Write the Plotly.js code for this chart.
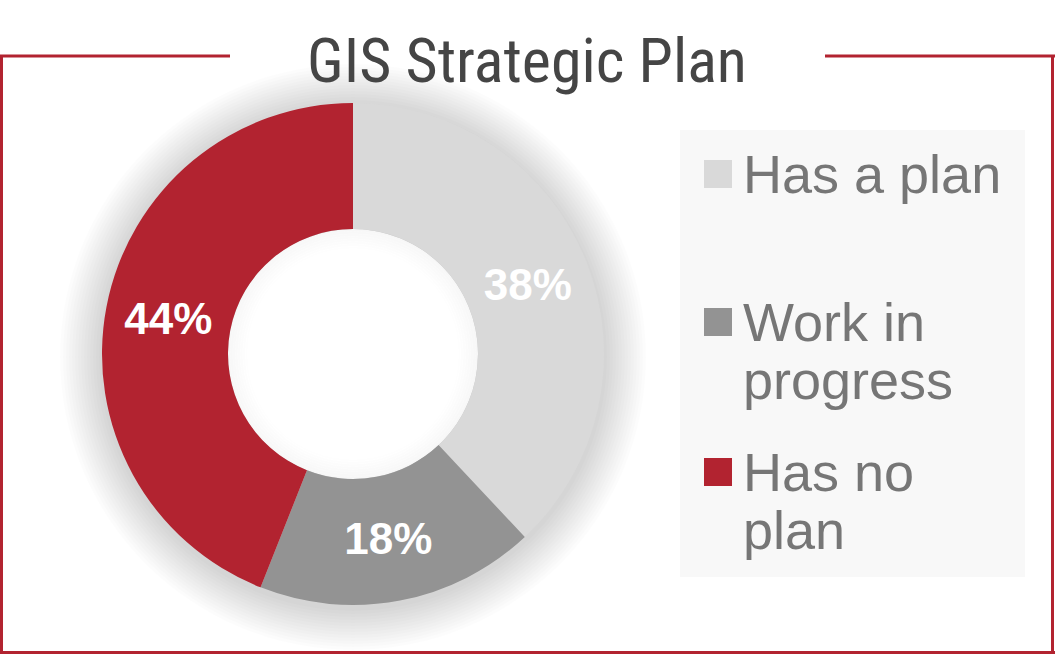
<!DOCTYPE html>
<html>
<head>
<meta charset="utf-8">
<script src="https://cdn.plot.ly/plotly-3.0.1.min.js"></script>
<style>
  html, body { margin: 0; padding: 0; background: #fff; }
  #myDiv { width: 1055px; height: 654px; }
</style>
</head>
<body>
<div id="myDiv"></div>
<script>
// chart data
const labels = ['Has a plan', 'Work in<br>progress', 'Has no<br>plan'];
const values = [38, 18, 44];
const colors = ['#d9d9d9', '#939393', '#b22330'];
const chartTitle = 'GIS Strategic Plan';

const W = 1055, H = 654;
// pixel -> paper helpers
const px = x => x / W;
const py = y => 1 - y / H;

// donut geometry (pixels)
const cx = 353, cy = 354, rOut = 251, rIn = 125;
const red = '#b22330';

const shapes = [];

// legend panel
shapes.push({
    type: 'rect', xref: 'paper', yref: 'paper', layer: 'below',
    x0: px(680), x1: px(1025), y0: py(577), y1: py(130),
    fillcolor: '#f8f8f8', line: {width: 0}
});

// soft shadow round the donut
for (let i = 14; i >= 1; i--) {
    const r = rOut + i * 3;
    shapes.push({
        type: 'circle', xref: 'paper', yref: 'paper', layer: 'below',
        x0: px(cx - r), x1: px(cx + r), y0: py(cy + 3 + r), y1: py(cy + 3 - r),
        fillcolor: 'rgba(0,0,0,0.011)', line: {width: 0}
    });
}
// keep the hole white
shapes.push({
    type: 'circle', xref: 'paper', yref: 'paper', layer: 'below',
    x0: px(cx - rIn), x1: px(cx + rIn), y0: py(cy + rIn), y1: py(cy - rIn),
    fillcolor: '#ffffff', line: {width: 0}
});
// inner shadow of the hole
for (let i = 0; i < 8; i++) {
    const r = rIn - 1 - i * 2.5;
    shapes.push({
        type: 'circle', xref: 'paper', yref: 'paper', layer: 'above',
        x0: px(cx - r), x1: px(cx + r), y0: py(cy + r), y1: py(cy - r),
        fillcolor: 'rgba(0,0,0,0)', line: {width: 2.5, color: 'rgba(0,0,0,' + (0.03 - i * 0.0035).toFixed(4) + ')'}
    });
}

// frame round the chart, broken under the title
const frame = [
    [0, 56, 230, 56], [825, 56, 1055, 56],
    [1.5, 56, 1.5, 654], [1052.5, 56, 1052.5, 654],
    [0, 652.5, 1055, 652.5]
];
frame.forEach(f => shapes.push({
    type: 'line', xref: 'paper', yref: 'paper',
    x0: px(f[0]), y0: py(f[1]), x1: px(f[2]), y1: py(f[3]),
    line: {color: red, width: 3}
}));

// legend entries
const annotations = [];
const itemTop = [174, 322, 472];
labels.forEach((lab, i) => {
    const yc = itemTop[i];
    shapes.push({
        type: 'rect', xref: 'paper', yref: 'paper',
        x0: px(704), x1: px(732), y0: py(yc + 14), y1: py(yc - 14),
        fillcolor: colors[i], line: {width: 0}
    });
    lab.split('<br>').forEach((line, j) => {
        annotations.push({
            xref: 'paper', yref: 'paper', showarrow: false,
            x: px(741), y: py(yc + j * 58), xanchor: 'left', yanchor: 'middle',
            text: line,
            font: {family: 'Liberation Sans, Arial, sans-serif', size: 54, color: '#767676'}
        });
    });
});

var data = [{
    type: 'pie',
    labels: labels,
    values: values,
    sort: false,
    direction: 'clockwise',
    rotation: 0,
    hole: rIn / rOut,
    marker: {colors: colors, line: {width: 0}},
    textinfo: 'percent',
    textposition: 'inside',
    insidetextorientation: 'horizontal',
    textfont: {family: 'Liberation Sans, Arial, sans-serif', size: 44, color: '#ffffff', weight: 'bold'},
    domain: {x: [px(cx - rOut), px(cx + rOut)], y: [py(cy + rOut), py(cy - rOut)]},
    showlegend: false,
    hoverinfo: 'label+percent'
}];

var layout = {
    width: W, height: H,
    margin: {l: 0, r: 0, t: 0, b: 0},
    paper_bgcolor: '#ffffff',
    title: {
        text: chartTitle,
        x: px(527), y: py(60), xanchor: 'center', yanchor: 'middle',
        font: {family: 'Roboto Condensed, Liberation Sans Narrow, Arial Narrow, Roboto, sans-serif', size: 62, color: '#454545'}
    },
    showlegend: false,
    shapes: shapes,
    annotations: annotations
};

Plotly.newPlot('myDiv', data, layout, {displayModeBar: false});
</script>
</body>
</html>
